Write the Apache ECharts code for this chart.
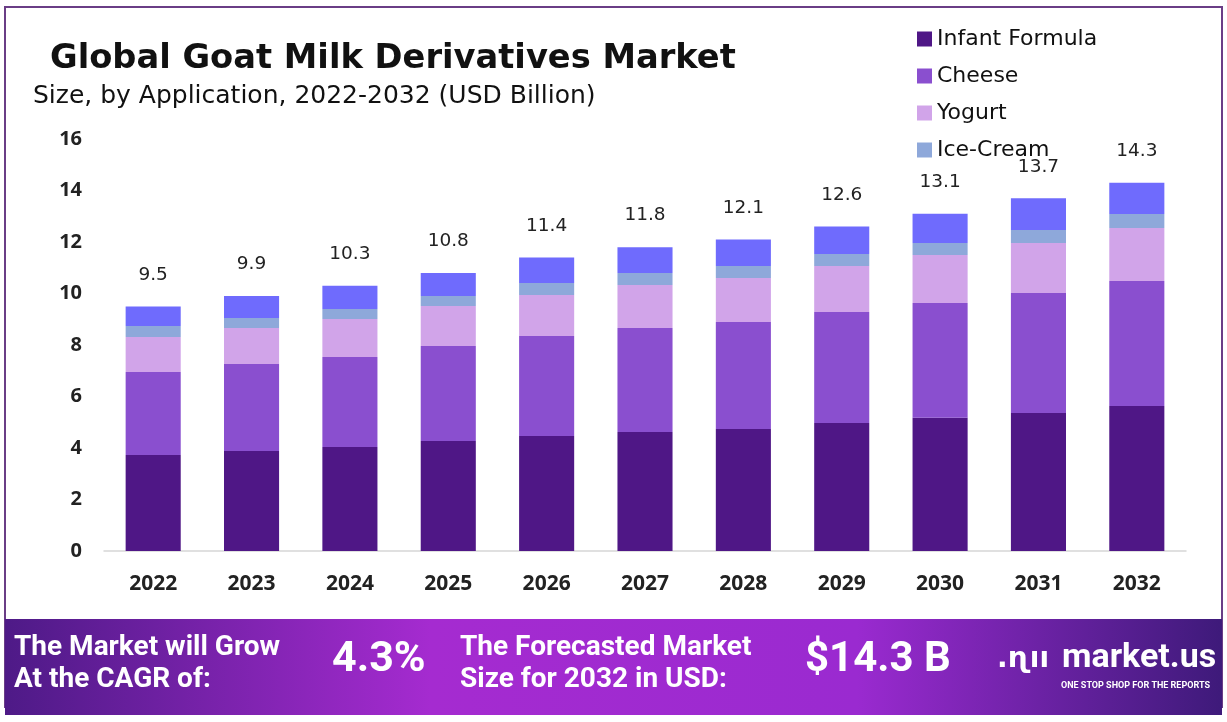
<!DOCTYPE html>
<html><head><meta charset="utf-8">
<script src="https://cdn.jsdelivr.net/npm/echarts@6/dist/echarts.min.js"></script>
<style>html,body{margin:0;padding:0;background:#fff}#c{width:1227px;height:722px}</style>
</head><body><div id="c"></div>
<script>
const years = ['2022','2023','2024','2025','2026','2027','2028','2029','2030','2031','2032'];
const infantFormula = [3.73,3.88,4.04,4.27,4.47,4.62,4.74,4.97,5.17,5.36,5.63];
const cheese = [3.22,3.38,3.49,3.69,3.88,4.04,4.15,4.31,4.46,4.66,4.86];
const yogurt = [1.36,1.40,1.48,1.55,1.59,1.67,1.71,1.79,1.87,1.94,2.05];
const iceCream = [0.43,0.39,0.39,0.39,0.47,0.47,0.47,0.46,0.46,0.51,0.55];
const others = [0.76,0.85,0.90,0.90,0.99,1.00,1.03,1.07,1.14,1.23,1.21];
const totals = ['9.5','9.9','10.3','10.8','11.4','11.8','12.1','12.6','13.1','13.7','14.3'];
const yTicks = [0,2,4,6,8,10,12,14,16];

const chart = echarts.init(document.getElementById('c'));
const wide = '"DejaVu Sans", sans-serif';
function ser(name, data, color, extra) {
  return Object.assign({
    name, type: 'bar', stack: 'total', data, barWidth: '56%',
    itemStyle: { color }, emphasis: { disabled: true }
  }, extra || {});
}
chart.setOption({
  animation: false,
  backgroundColor: '#fff',
  graphic: [
    { type: 'rect', shape: { x: 5, y: 7, width: 1217, height: 700 }, style: { fill: 'none', stroke: '#6a3d86', lineWidth: 2 }, z: 0 },
    { type: 'rect', shape: { x: 5, y: 619, width: 1217, height: 96 },
      style: { fill: new echarts.graphic.LinearGradient(0, 0, 1, 0, [
        { offset: 0, color: '#4e1a87' }, { offset: 0.35, color: '#a52bd0' },
        { offset: 0.7, color: '#9a2ad0' }, { offset: 1, color: '#3e1a7a' }]) }, z: 1 },
    { type: 'text', left: 14, top: 632, z: 2, style: { text: 'The Market will Grow\nAt the CAGR of:', fill: '#fff', font: 'bold 28px "Roboto", sans-serif', lineHeight: 32 } },
    { type: 'text', left: 332, top: 639, z: 2, style: { text: '4.3%', fill: '#fff', font: 'bold 43px "Roboto", sans-serif' } },
    { type: 'text', left: 460, top: 632, z: 2, style: { text: 'The Forecasted Market\nSize for 2032 in USD:', fill: '#fff', font: 'bold 28px "Roboto", sans-serif', lineHeight: 32 } },
    { type: 'text', left: 805, top: 639, z: 2, style: { text: '$14.3 B', fill: '#fff', font: 'bold 42px "Roboto", sans-serif' } },
    { type: 'text', left: 997, top: 646, z: 2, style: { text: '.\u0273\u0131\u0131', fill: '#fff', font: 'bold 28px "DejaVu Sans", sans-serif' } },
    { type: 'text', left: 1062, top: 641, z: 2, style: { text: 'market.us', fill: '#fff', font: 'bold 34px "Roboto", sans-serif' } },
    { type: 'text', left: 1061, top: 681, z: 2, style: { text: 'ONE STOP SHOP FOR THE REPORTS', fill: '#fff', font: 'bold 9px "Roboto", sans-serif' } },
    { type: 'text', left: 50, top: 42, z: 2, style: { text: 'Global Goat Milk Derivatives Market', fill: '#111', font: 'bold 33.7px "DejaVu Sans", sans-serif' } },
    { type: 'text', left: 33, top: 84, z: 2, style: { text: 'Size, by Application, 2022-2032 (USD Billion)', fill: '#111', font: '25px "DejaVu Sans", sans-serif' } }
  ],
  legend: {
    data: ['Infant Formula', 'Cheese', 'Yogurt', 'Ice-Cream'],
    orient: 'vertical', left: 912, top: 23, itemGap: 15,
    itemWidth: 15, itemHeight: 15, icon: 'rect',
    textStyle: { fontSize: 22, color: '#111', fontFamily: wide }
  },
  grid: { left: 104, right: 41, top: 139, bottom: 171, containLabel: false },
  xAxis: {
    type: 'category', data: years,
    axisLine: { lineStyle: { color: '#d6d6d6', width: 1.5 } },
    axisTick: { show: false },
    axisLabel: { fontSize: 21, fontWeight: 'bold', color: '#222', margin: 23, fontFamily: '"Open Sans", sans-serif' }
  },
  yAxis: {
    type: 'value', min: 0, max: 16, interval: 2,
    splitLine: { show: false },
    axisLabel: { fontSize: 20, fontWeight: 'bold', color: '#222', margin: 22, fontFamily: '"Open Sans", sans-serif',
      formatter: v => yTicks.includes(v) ? String(v) : '' }
  },
  series: [
    ser('Infant Formula', infantFormula, '#4f1786'),
    ser('Cheese', cheese, '#8a4fcf'),
    ser('Yogurt', yogurt, '#d1a4e9'),
    ser('Ice-Cream', iceCream, '#8ea8da'),
    ser('Others', others, '#6f6bfd', {
      label: { show: true, position: 'top', distance: 22, fontSize: 18.5, color: '#222', fontFamily: wide,
        formatter: p => totals[p.dataIndex] }
    })
  ]
});
</script></body></html>
